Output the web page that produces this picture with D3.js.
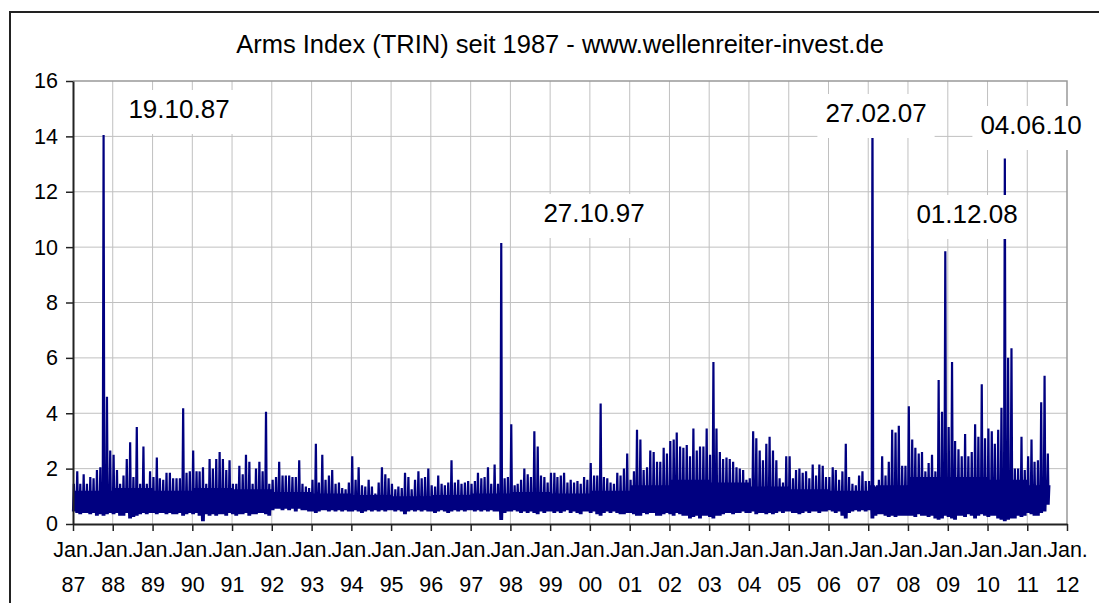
<!DOCTYPE html>
<html>
<head>
<meta charset="utf-8">
<script src="https://cdn.jsdelivr.net/npm/d3@7"></script>
<style>
  body { margin: 0; background: #fff; }
  svg { display: block; font-family: 'Liberation Sans', Arial, sans-serif; }
</style>
</head>
<body>
<div id="chart"></div>
<script>
// monthly high / low of the daily TRIN (Jan 1987 - Jul 2011)
const startYear = 1987;

const monthlyHigh = [
  1.45, 1.9, 1.45, 1.8, 1.45, 1.7, 1.65, 1.95, 2.05, 14.05, 4.6, 2.65,   // 1987
  2.5, 1.95, 1.45, 1.75, 2.35, 2.95, 1.7, 3.5, 1.45, 2.8, 1.45, 1.9,     // 1988
  1.7, 2.4, 1.65, 1.6, 1.85, 1.85, 1.65, 1.65, 1.65, 4.18, 1.85, 1.9,    // 1989
  2.65, 1.9, 1.9, 2.05, 1.45, 2.35, 2.0, 2.35, 2.6, 2.35, 1.95, 2.3,     // 1990
  1.45, 1.45, 2.1, 1.8, 2.5, 2.25, 1.45, 2.0, 2.25, 1.9, 4.05, 1.45,     // 1991
  1.6, 1.7, 2.25, 1.75, 1.75, 1.75, 1.7, 1.7, 2.3, 1.45, 1.35, 1.3,      // 1992
  1.6, 2.9, 1.5, 2.5, 1.6, 1.75, 1.95, 1.45, 1.5, 1.3, 1.25, 1.5,        // 1993
  2.45, 1.6, 2.05, 1.4, 1.35, 1.6, 1.35, 1.1, 1.5, 2.05, 1.8, 1.65,      // 1994
  1.45, 1.25, 1.35, 1.3, 1.85, 1.7, 1.25, 1.6, 1.9, 1.65, 1.7, 2.0,      // 1995
  1.4, 1.35, 1.75, 1.45, 1.4, 1.5, 2.3, 1.5, 1.6, 1.45, 1.5, 1.55,       // 1996
  1.45, 1.55, 1.85, 1.65, 1.7, 2.05, 1.45, 2.15, 1.45, 10.15, 1.65, 1.7, // 1997
  3.6, 1.4, 1.45, 1.6, 2.0, 1.8, 1.7, 3.35, 2.8, 1.75, 1.7, 1.5,         // 1998
  1.85, 1.85, 1.7, 1.75, 1.85, 1.5, 1.6, 1.5, 1.55, 1.45, 1.7, 1.6,      // 1999
  2.2, 1.75, 1.75, 4.35, 1.7, 1.65, 1.5, 1.45, 1.85, 1.75, 2.0, 2.55,    // 2000
  1.6, 1.9, 3.4, 3.05, 1.95, 2.05, 2.65, 2.6, 2.25, 2.25, 2.75, 2.55,    // 2001
  3.0, 3.05, 3.3, 2.8, 2.75, 2.85, 2.45, 3.45, 2.65, 2.8, 2.8, 3.45,     // 2002
  2.5, 5.85, 3.45, 2.6, 2.35, 2.4, 2.35, 2.25, 2.05, 2.0, 1.95, 1.6,     // 2003
  1.65, 3.35, 3.1, 2.65, 2.3, 2.9, 3.15, 2.65, 2.3, 1.65, 1.5, 2.45,     // 2004
  2.45, 1.65, 1.95, 2.0, 1.85, 1.9, 1.65, 2.15, 1.75, 2.15, 2.1, 1.7,    // 2005
  1.7, 2.05, 1.95, 1.6, 1.9, 2.9, 1.7, 1.45, 1.4, 1.75, 1.9, 1.55,       // 2006
  1.55, 14.9, 1.35, 1.6, 2.45, 1.75, 2.25, 3.4, 3.3, 3.55, 2.1, 2.1,     // 2007
  4.25, 3.05, 2.75, 2.55, 2.6, 1.9, 2.2, 2.5, 1.9, 5.2, 4.05, 9.85,      // 2008
  3.5, 5.85, 3.0, 2.7, 2.45, 3.25, 2.45, 2.6, 3.6, 3.15, 5.05, 3.1,      // 2009
  3.45, 3.35, 2.9, 3.4, 4.2, 13.2, 6.0, 6.35, 2.0, 2.0, 3.15, 1.95,      // 2010
  2.45, 3.05, 2.25, 2.3, 4.4, 5.35, 2.55                                 // 2011
];

const monthlyLow = [
  0.45, 0.4, 0.35, 0.4, 0.4, 0.35, 0.4, 0.3, 0.35, 0.3, 0.35, 0.4,       // 1987
  0.35, 0.4, 0.3, 0.3, 0.4, 0.2, 0.25, 0.3, 0.35, 0.4, 0.35, 0.4,        // 1988
  0.4, 0.35, 0.4, 0.4, 0.35, 0.4, 0.35, 0.35, 0.4, 0.3, 0.35, 0.4,       // 1989
  0.35, 0.4, 0.3, 0.1, 0.35, 0.3, 0.35, 0.3, 0.35, 0.35, 0.3, 0.4,       // 1990
  0.35, 0.3, 0.35, 0.35, 0.4, 0.3, 0.35, 0.35, 0.4, 0.4, 0.35, 0.3,      // 1991
  0.5, 0.55, 0.55, 0.5, 0.55, 0.5, 0.55, 0.45, 0.55, 0.5, 0.5, 0.45,     // 1992
  0.45, 0.4, 0.45, 0.5, 0.5, 0.45, 0.5, 0.45, 0.5, 0.45, 0.5, 0.45,      // 1993
  0.45, 0.5, 0.45, 0.4, 0.45, 0.5, 0.45, 0.5, 0.45, 0.5, 0.45, 0.5,      // 1994
  0.5, 0.45, 0.5, 0.45, 0.35, 0.45, 0.5, 0.45, 0.5, 0.45, 0.5, 0.45,     // 1995
  0.45, 0.4, 0.45, 0.5, 0.45, 0.4, 0.45, 0.5, 0.45, 0.5, 0.45, 0.5,      // 1996
  0.5, 0.45, 0.5, 0.45, 0.5, 0.45, 0.5, 0.45, 0.45, 0.15, 0.4, 0.45,     // 1997
  0.45, 0.5, 0.45, 0.4, 0.45, 0.4, 0.45, 0.4, 0.35, 0.45, 0.4, 0.45,     // 1998
  0.45, 0.4, 0.45, 0.4, 0.45, 0.5, 0.4, 0.45, 0.4, 0.35, 0.45, 0.45,     // 1999
  0.4, 0.45, 0.35, 0.3, 0.4, 0.45, 0.4, 0.45, 0.4, 0.35, 0.35, 0.4,      // 2000
  0.4, 0.35, 0.3, 0.3, 0.4, 0.35, 0.4, 0.4, 0.3, 0.3, 0.35, 0.4,         // 2001
  0.35, 0.3, 0.4, 0.35, 0.3, 0.3, 0.2, 0.25, 0.3, 0.2, 0.3, 0.3,         // 2002
  0.25, 0.2, 0.3, 0.3, 0.35, 0.4, 0.4, 0.35, 0.4, 0.4, 0.45, 0.4,        // 2003
  0.4, 0.45, 0.35, 0.4, 0.4, 0.35, 0.4, 0.35, 0.4, 0.45, 0.4, 0.45,      // 2004
  0.45, 0.4, 0.4, 0.35, 0.4, 0.45, 0.4, 0.45, 0.45, 0.4, 0.45, 0.45,     // 2005
  0.5, 0.45, 0.4, 0.45, 0.3, 0.2, 0.4, 0.45, 0.5, 0.45, 0.5, 0.45,       // 2006
  0.5, 0.2, 0.3, 0.35, 0.35, 0.3, 0.25, 0.3, 0.25, 0.3, 0.3, 0.3,        // 2007
  0.3, 0.3, 0.25, 0.35, 0.3, 0.3, 0.25, 0.3, 0.2, 0.15, 0.2, 0.3,        // 2008
  0.25, 0.2, 0.15, 0.3, 0.3, 0.25, 0.35, 0.3, 0.2, 0.3, 0.35, 0.3,       // 2009
  0.25, 0.3, 0.3, 0.2, 0.15, 0.1, 0.15, 0.2, 0.2, 0.3, 0.25, 0.3,        // 2010
  0.4, 0.35, 0.3, 0.3, 0.4, 0.45, 0.7                                    // 2011
];

// top of the solid "body" of the band, one value per year 1987..2011
const coreTop = [
  1.2, 1.3, 1.2, 1.3, 1.25, 1.15, 1.1, 1.05, 1.0, 1.05, 1.1, 1.15, 1.1,
  1.2, 1.4, 1.6, 1.5, 1.35, 1.25, 1.2, 1.4, 1.7, 1.7, 1.6, 1.4
];

const yTicks = [0, 2, 4, 6, 8, 10, 12, 14, 16];
const xTickYears = d3.range(1987, 2013);

// dated annotations above the big spikes
const notes = [
  { label: '19.10.87', x: 179, y: 118 },
  { label: '27.10.97', x: 594, y: 222 },
  { label: '27.02.07', x: 876, y: 122 },
  { label: '01.12.08', x: 967, y: 223 },
  { label: '04.06.10', x: 1031, y: 134 },
];

const titleText = 'Arms Index (TRIN) seit 1987 - www.wellenreiter-invest.de';

drawChart();

function drawChart() {
  const width = 1099;
  const height = 603;
  const plot = { left: 73, right: 1067, top: 81, bottom: 524 };

  const svg = d3.select('#chart').append('svg')
      .attr('width', width)
      .attr('height', height);

  // outer chart frame (runs off the picture at the right and bottom)
  svg.append('rect')
      .attr('x', 10)
      .attr('y', 12)
      .attr('width', 1120)
      .attr('height', 620)
      .attr('fill', '#fff')
      .attr('stroke', '#222')
      .attr('stroke-width', 2);

  svg.append('text')
      .text(titleText)
      .attr('x', 560)
      .attr('y', 53)
      .attr('text-anchor', 'middle')
      .style('font-size', '25.5px')
      .style('fill', '#000');

  const x = d3.scaleTime()
      .domain([new Date(startYear, 0, 1), new Date(2012, 0, 1)])
      .range([plot.left, plot.right]);
  const y = d3.scaleLinear()
      .domain([0, 16])
      .range([plot.bottom, plot.top]);

  // grid
  svg.append('g')
      .selectAll('line')
      .data(xTickYears.slice(1, -1))
      .join('line')
      .attr('x1', d => x(new Date(d, 0, 1)))
      .attr('x2', d => x(new Date(d, 0, 1)))
      .attr('y1', plot.top)
      .attr('y2', plot.bottom)
      .attr('stroke', '#c0c0c0')
      .attr('stroke-width', 1);

  svg.append('g')
      .selectAll('line')
      .data(yTicks.slice(1, -1))
      .join('line')
      .attr('x1', plot.left)
      .attr('x2', plot.right)
      .attr('y1', d => y(d))
      .attr('y2', d => y(d))
      .attr('stroke', '#c0c0c0')
      .attr('stroke-width', 1);

  // top and right edge of the plot area
  svg.append('path')
      .attr('d', `M${plot.left},${y(16)}H${x(new Date(2012, 0, 1))}V${plot.bottom}`)
      .attr('fill', 'none')
      .attr('stroke', '#999')
      .attr('stroke-width', 1.5);

  // series: each month swings low -> high -> low -> body top
  const points = [];
  monthlyHigh.forEach((hi, i) => {
    const lo = monthlyLow[i];
    const core = coreTop[Math.floor(i / 12)];
    points.push([new Date(startYear, i, 1), lo]);
    points.push([new Date(startYear, i, 9), hi]);
    points.push([new Date(startYear, i, 16), lo]);
    points.push([new Date(startYear, i, 23), core]);
  });

  const line = d3.line()
      .x(d => x(d[0]))
      .y(d => y(d[1]));

  svg.append('path')
      .datum(points)
      .attr('d', line)
      .attr('fill', 'none')
      .attr('stroke', '#000080')
      .attr('stroke-width', 2.2)
      .attr('stroke-linejoin', 'bevel');

  displayAxis(svg, x, y, plot);
  displayNotes(svg);
}

function displayAxis(svg, x, y, plot) {
  const xAxis = d3.axisBottom(x)
      .tickValues(xTickYears.map(yr => new Date(yr, 0, 1)))
      .tickSizeInner(7)
      .tickSizeOuter(0)
      .tickFormat('');

  const gx = svg.append('g')
      .attr('transform', `translate(0, ${plot.bottom})`)
      .call(xAxis);

  gx.select('.domain').attr('stroke', '#222').attr('stroke-width', 2);
  gx.selectAll('.tick line').attr('stroke', '#222').attr('stroke-width', 1.5);

  gx.selectAll('.tick').append('text')
      .text('Jan.')
      .attr('y', 33)
      .attr('fill', '#000')
      .attr('text-anchor', 'middle')
      .style('font-size', '21.5px');

  gx.selectAll('.tick').append('text')
      .text(d => d3.timeFormat('%y')(d))
      .attr('y', 68)
      .attr('fill', '#000')
      .attr('text-anchor', 'middle')
      .style('font-size', '21.5px');

  const yAxis = d3.axisLeft(y)
      .tickValues(yTicks)
      .tickSizeInner(7)
      .tickSizeOuter(0)
      .tickPadding(8);

  const gy = svg.append('g')
      .attr('transform', `translate(${plot.left}, 0)`)
      .call(yAxis);

  gy.select('.domain').attr('stroke', '#222').attr('stroke-width', 2);
  gy.selectAll('.tick line').attr('stroke', '#222').attr('stroke-width', 1.5);
  gy.selectAll('.tick text')
      .attr('fill', '#000')
      .style('font-family', "'Liberation Sans', Arial, sans-serif")
      .style('font-size', '21.5px');
}

function displayNotes(svg) {
  const g = svg.append('g');

  notes.forEach(note => {
    const text = g.append('text')
        .text(note.label)
        .attr('x', note.x)
        .attr('y', note.y)
        .attr('text-anchor', 'middle')
        .style('font-size', '26px')
        .style('fill', '#000');

    const box = text.node().getBBox();
    g.insert('rect', 'text')
        .attr('x', box.x - 8)
        .attr('y', note.y - 28)
        .attr('width', box.width + 16)
        .attr('height', 44)
        .attr('fill', '#fff');
  });
}
</script>
</body>
</html>
